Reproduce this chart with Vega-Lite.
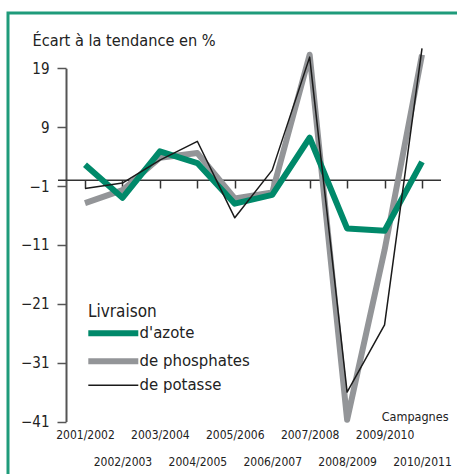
{
  "$schema": "https://vega.github.io/schema/vega-lite/v6.json",
  "width": 455,
  "height": 470,
  "autosize": {"type": "none"},
  "padding": {"left": 8, "top": 13, "right": -6, "bottom": -9},
  "background": "white",
  "config": {
    "view": {"stroke": "#1f9b7b", "strokeWidth": 3},
    "font": "'DejaVu Sans Condensed', 'DejaVu Sans', sans-serif",
    "axis": {"grid": false}
  },
  "resolve": {"scale": {"x": "independent"}},
  "layer": [
    {
      "data": {"values": [{"ligne": "zero"}]},
      "mark": {"type": "rule", "color": "#333333", "strokeWidth": 1.5},
      "encoding": {
        "x": {"datum": 0, "type": "quantitative", "scale": {"domain": [0, 1], "range": [50, 433]}, "axis": null},
        "x2": {"datum": 1},
        "y": {"datum": 0, "type": "quantitative"}
      }
    },
    {
      "data": {
        "values": [
          {"campagne": "2001/2002", "serie": "de phosphates", "valeur": -3.9},
          {"campagne": "2002/2003", "serie": "de phosphates", "valeur": -1.7},
          {"campagne": "2003/2004", "serie": "de phosphates", "valeur": 3.8},
          {"campagne": "2004/2005", "serie": "de phosphates", "valeur": 4.6},
          {"campagne": "2005/2006", "serie": "de phosphates", "valeur": -3.1},
          {"campagne": "2006/2007", "serie": "de phosphates", "valeur": -2.1},
          {"campagne": "2007/2008", "serie": "de phosphates", "valeur": 21.3},
          {"campagne": "2008/2009", "serie": "de phosphates", "valeur": -40.7},
          {"campagne": "2009/2010", "serie": "de phosphates", "valeur": -11.9},
          {"campagne": "2010/2011", "serie": "de phosphates", "valeur": 21.3},
          {"campagne": "2001/2002", "serie": "d'azote", "valeur": 2.6},
          {"campagne": "2002/2003", "serie": "d'azote", "valeur": -3.0},
          {"campagne": "2003/2004", "serie": "d'azote", "valeur": 4.9},
          {"campagne": "2004/2005", "serie": "d'azote", "valeur": 2.9},
          {"campagne": "2005/2006", "serie": "d'azote", "valeur": -4.0},
          {"campagne": "2006/2007", "serie": "d'azote", "valeur": -2.5},
          {"campagne": "2007/2008", "serie": "d'azote", "valeur": 7.2},
          {"campagne": "2008/2009", "serie": "d'azote", "valeur": -8.2},
          {"campagne": "2009/2010", "serie": "d'azote", "valeur": -8.6},
          {"campagne": "2010/2011", "serie": "d'azote", "valeur": 3.1},
          {"campagne": "2001/2002", "serie": "de potasse", "valeur": -1.4},
          {"campagne": "2002/2003", "serie": "de potasse", "valeur": -0.5},
          {"campagne": "2003/2004", "serie": "de potasse", "valeur": 3.4},
          {"campagne": "2004/2005", "serie": "de potasse", "valeur": 6.6},
          {"campagne": "2005/2006", "serie": "de potasse", "valeur": -6.4},
          {"campagne": "2006/2007", "serie": "de potasse", "valeur": 1.7},
          {"campagne": "2007/2008", "serie": "de potasse", "valeur": 20.9},
          {"campagne": "2008/2009", "serie": "de potasse", "valeur": -36.0},
          {"campagne": "2009/2010", "serie": "de potasse", "valeur": -24.6},
          {"campagne": "2010/2011", "serie": "de potasse", "valeur": 22.4}
        ]
      },
      "mark": {"type": "line", "strokeJoin": "round"},
      "encoding": {
        "x": {
          "field": "campagne",
          "type": "ordinal",
          "sort": null,
          "scale": {"type": "point", "range": [77, 414], "padding": 0},
          "axis": {
            "title": "Campagnes",
            "titleFontSize": 12.5,
            "titleFontWeight": "normal",
            "titleColor": "#222222",
            "titleAlign": "right",
            "titleBaseline": "alphabetic",
            "titleX": 440,
            "titleY": 240,
            "offset": -303,
            "domain": false,
            "ticks": true,
            "tickSize": 8,
            "tickWidth": 1.5,
            "tickColor": "#333333",
            "labelAngle": 0,
            "labelAlign": "center",
            "labelFontSize": 12,
            "labelColor": "#222222",
            "labelPadding": 250,
            "labelBaseline": "alphabetic",
            "labelLineHeight": 27,
            "labelOverlap": false,
            "labelExpr": "toNumber(substring(datum.value, 0, 4)) % 2 == 0 ? ['', datum.value] : [datum.value]"
          }
        },
        "y": {
          "field": "valeur",
          "type": "quantitative",
          "scale": {"domain": [-41, 19], "range": [408.5, 55.3], "nice": false, "zero": false},
          "axis": {
            "title": "Écart à la tendance en %",
            "titleAngle": 0,
            "titleAlign": "left",
            "titleBaseline": "alphabetic",
            "titleX": -34,
            "titleY": 32,
            "titleFontSize": 16.2,
            "titleFontWeight": "normal",
            "titleColor": "#222222",
            "values": [19, 9, -1, -11, -21, -31, -41],
            "offset": -58,
            "tickSize": 9,
            "tickWidth": 1.5,
            "tickColor": "#555555",
            "domainColor": "#555555",
            "domainWidth": 2,
            "labelFontSize": 15,
            "labelColor": "#222222",
            "labelPadding": 8
          }
        },
        "color": {
          "field": "serie",
          "type": "nominal",
          "scale": {"domain": ["d'azote", "de phosphates", "de potasse"], "range": ["#00896a", "#939598", "#1a1a1a"]},
          "legend": {
            "title": "Livraison",
            "orient": "none",
            "legendX": 80,
            "legendY": 291,
            "titleFontSize": 17,
            "titleFontWeight": "normal",
            "titleColor": "#222222",
            "titlePadding": 4,
            "labelFontSize": 16.6,
            "labelColor": "#222222",
            "symbolType": "M-1,0H5.25",
            "symbolSize": 256,
            "labelOffset": 35,
            "rowPadding": 3,
            "encode": {
              "symbols": {
                "update": {
                  "strokeWidth": {"signal": "datum.value === 'de potasse' ? 1.5 : 6"}
                }
              }
            }
          }
        },
        "strokeWidth": {
          "condition": {"test": "datum.serie === 'de potasse'", "value": 1.5},
          "value": 6
        }
      }
    }
  ]
}
